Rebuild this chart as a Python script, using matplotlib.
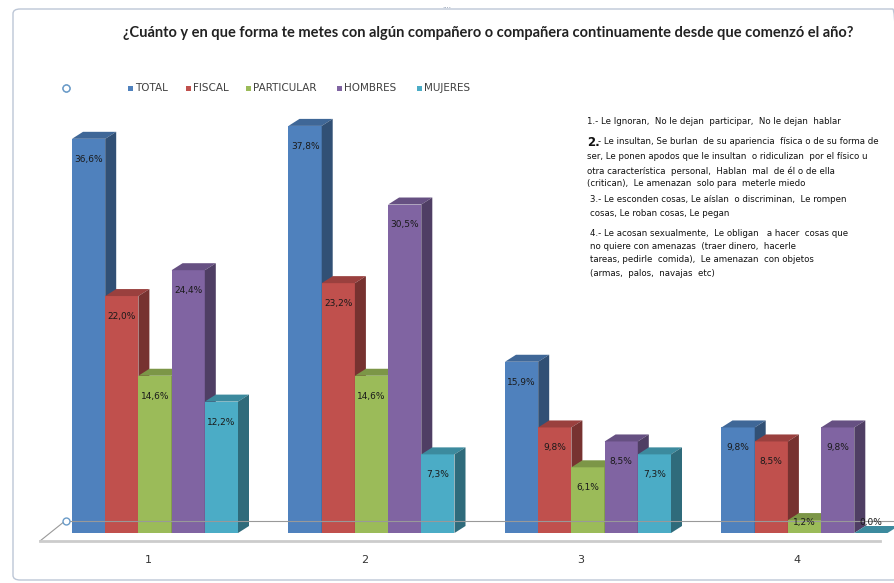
import numpy as np
import matplotlib.pyplot as plt
from matplotlib.patches import Rectangle, Polygon, FancyBboxPatch
from matplotlib.colors import to_rgb

# data
categories = ['1', '2', '3', '4']
series = ['TOTAL', 'FISCAL', 'PARTICULAR', 'HOMBRES', 'MUJERES']
total = [36.6, 37.8, 15.9, 9.8]
fiscal = [22.0, 23.2, 9.8, 8.5]
particular = [14.6, 14.6, 6.1, 1.2]
hombres = [24.4, 30.5, 8.5, 9.8]
mujeres = [12.2, 7.3, 7.3, 0.0]
colors = ['#4F81BD', '#C0504D', '#9BBB59', '#8064A2', '#4BACC6']

title = '¿Cuánto y en que forma te metes con algún compañero o compañera continuamente desde que comenzó el año?'
notes = [
    ('1.- Le Ignoran,  No le dejan  participar,  No le dejan  hablar', 587, 121),
    ('2.- Le insultan, Se burlan  de su apariencia  física o de su forma de', 587, 142),
    ('ser, Le ponen apodos que le insultan  o ridiculizan  por el físico u', 587, 157),
    ('otra característica  personal,  Hablan  mal  de él o de ella', 587, 171),
    ('(critican),  Le amenazan  solo para  meterle miedo', 587, 184),
    ('3.- Le esconden cosas, Le aíslan  o discriminan,  Le rompen', 590, 199),
    ('cosas, Le roban cosas, Le pegan', 590, 213),
    ('4.- Le acosan sexualmente,  Le obligan   a hacer  cosas que', 590, 233),
    ('no quiere con amenazas  (traer dinero,  hacerle', 590, 247),
    ('tareas, pedirle  comida),  Le amenazan  con objetos', 590, 260),
    ('(armas,  palos,  navajas  etc)', 590, 274),
]

values = [total, fiscal, particular, hombres, mujeres]

W, H = 895, 583
fig = plt.figure(figsize=(W / 100, H / 100), dpi=100)
ax = fig.add_axes([0, 0, 1, 1])
ax.axis('off')

# scale: one group = 216.5 px, 1 % = 10.77 px, baseline at 533 px from top
gx, py, base = 216.5, 10.77, 533
ax.set_xlim(-155 / gx, (W - 155) / gx)
ax.set_ylim(-(H - base) / py, base / py)


def fx(x):
    return x / W


def fy(y):
    return 1 - y / H


# chart border
fig.patches.append(FancyBboxPatch((fx(13), fy(580)), fx(900) - fx(13), fy(9) - fy(580),
                                  boxstyle='round,pad=0,rounding_size=0.008',
                                  transform=fig.transFigure, fill=False,
                                  edgecolor='#bcc6d6', lw=1.0))
fig.text(fx(447), fy(8), '····', ha='center', va='center', fontsize=5, color='#8090a8')

# floor
ax.plot([(40 - 155) / gx, (65 - 155) / gx], [-8 / py, 12 / py], color='#999999', lw=0.8)
ax.plot([(65 - 155) / gx, (W - 155) / gx], [12 / py, 12 / py], color='#999999', lw=0.8)
ax.plot([(40 - 155) / gx, (880 - 155) / gx], [-8 / py, -8 / py], color='#cccccc', lw=2)
for yy in [12 / py, (base - 88) / py]:
    ax.plot((66 - 155) / gx, yy, 'o', ms=5, mfc='white', mec='#6a9bc8', mew=1)

# bars as pseudo-3D prisms
w = 33.2 / gx
dx, dy = 11 / gx, 7 / py
x = np.arange(len(categories))
for i in range(len(categories)):
    left = x[i] - 2.5 * w
    for k, vals in enumerate(values):
        v = vals[i]
        x0 = left + k * w
        c = np.array(to_rgb(colors[k]))
        ax.add_patch(Rectangle((x0, 0), w, v, facecolor=c, lw=0))
        ax.add_patch(Polygon([(x0, v), (x0 + dx, v + dy), (x0 + w + dx, v + dy), (x0 + w, v)],
                             facecolor=c * 0.8, lw=0))
        ax.add_patch(Polygon([(x0 + w, 0), (x0 + w + dx, dy), (x0 + w + dx, v + dy), (x0 + w, v)],
                             facecolor=c * 0.62, lw=0))
        ax.text(x0 + w / 2, max(v - 1.9, 1.0), f'{v:.1f}%'.replace('.', ','),
                ha='center', va='center', fontsize=6.5, color='#1a1a1a')
    ax.text(x[i] - 0.033, -27 / py, categories[i], ha='center', va='center',
            fontsize=8, color='#333333')

# title
fig.text(fx(488), fy(33), title, ha='center', va='center', fontsize=10.5,
         family='Lato', weight='bold', color='#222222')

# legend
lx = [127, 185, 245, 336, 416]
for k, name in enumerate(series):
    fig.patches.append(Rectangle((fx(lx[k] + 1), fy(91)), 5 / W, 5 / H,
                                 transform=fig.transFigure, facecolor=colors[k], lw=0))
    fig.text(fx(lx[k] + 8), fy(88), name, ha='left', va='center', fontsize=7.5,
             color='#404040')
ax.plot((66 - 155) / gx, (base - 88) / py, 'o', ms=5, mfc='white', mec='#6a9bc8', mew=1)

# notes
for txt, nx, ny in notes:
    if txt.startswith('2.-'):
        fig.text(fx(nx), fy(ny), '2.', ha='left', va='center', fontsize=8.5,
                 weight='bold', color='#111111')
        fig.text(fx(nx + 11), fy(ny), txt[2:], ha='left', va='center', fontsize=6.2,
                 color='#111111')
    else:
        fig.text(fx(nx), fy(ny), txt, ha='left', va='center', fontsize=6.2, color='#111111')

fig.savefig('out.png', dpi=100)
